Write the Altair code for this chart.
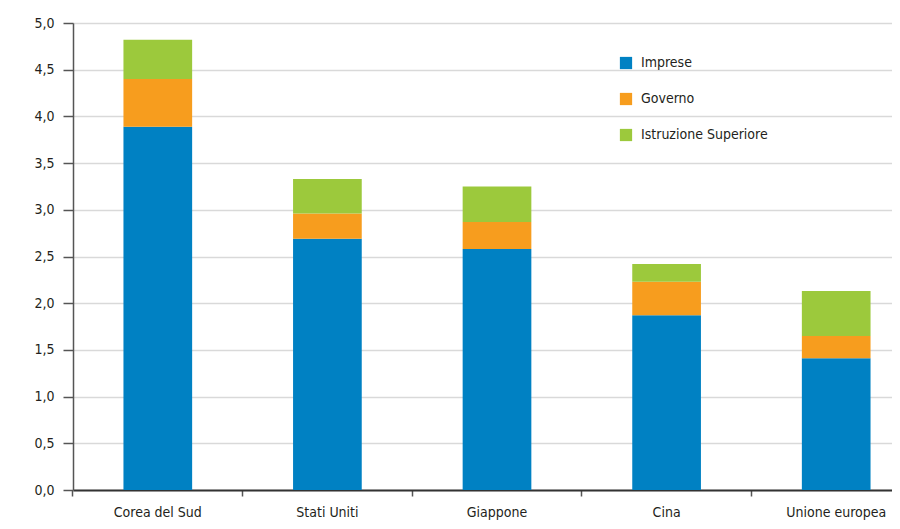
import altair as alt
import pandas as pd

paesi = ["Corea del Sud", "Stati Uniti", "Giappone", "Cina", "Unione europea"]
settori = ["Imprese", "Governo", "Istruzione Superiore"]
imprese = [3.89, 2.69, 2.58, 1.87, 1.41]
governo = [0.51, 0.27, 0.29, 0.36, 0.24]
istruzione = [0.42, 0.37, 0.38, 0.19, 0.48]
colori = ["#0081C3", "#F79D1E", "#9CC93C"]

rows = []
for i, p in enumerate(paesi):
    for k, (s, vals) in enumerate(zip(settori, [imprese, governo, istruzione])):
        rows.append({"paese": p, "settore": s, "valore": vals[i], "ordine": k})
df = pd.DataFrame(rows)

FONT = "DejaVu Sans Condensed, Roboto, sans-serif"

chart = alt.Chart(df).mark_bar().encode(
    x=alt.X("paese:N", sort=paesi, title=None,
            scale=alt.Scale(range=[0, 848], paddingInner=0.595, paddingOuter=0.2975),
            axis=alt.Axis(labelAngle=0, bandPosition=-0.7346, grid=False,
                          domainColor="#333333", domainWidth=2,
                          tickColor="#555555", tickSize=6, tickWidth=1.5,
                          labelPadding=9, labelFontSize=14, labelColor="#231F20",
                          labelFont=FONT)),
    y=alt.Y("valore:Q", title=None,
            scale=alt.Scale(domain=[0, 5], nice=False),
            axis=alt.Axis(values=[0, 0.5, 1, 1.5, 2, 2.5, 3, 3.5, 4, 4.5, 5],
                          labelExpr="replace(format(datum.value, '.1f'), '.', ',')",
                          grid=True, gridColor="#D9D9D9", gridWidth=1.5,
                          domainColor="#555555", domainWidth=1.5,
                          tickColor="#555555", tickSize=10, tickWidth=1.5,
                          labelPadding=9, labelFontSize=14, labelColor="#231F20",
                          labelFont=FONT)),
    color=alt.Color("settore:N", sort=settori,
                    scale=alt.Scale(domain=settori, range=colori),
                    legend=alt.Legend(title=None, orient="none", legendX=546, legendY=33,
                                      symbolType="square", symbolSize=150,
                                      symbolStrokeWidth=0, rowPadding=22,
                                      labelFontSize=14, labelFont=FONT,
                                      labelColor="#231F20", labelOffset=8)),
    order=alt.Order("ordine:Q", sort="ascending"),
).properties(
    width=819, height=467,
    autosize=alt.AutoSizeParams(type="none"),
    padding={"left": 65, "top": 15, "right": 0, "bottom": 31},
).configure_view(stroke=None).configure(background="white")

chart.save("out.html", embed_options={"renderer": "svg", "actions": False})
